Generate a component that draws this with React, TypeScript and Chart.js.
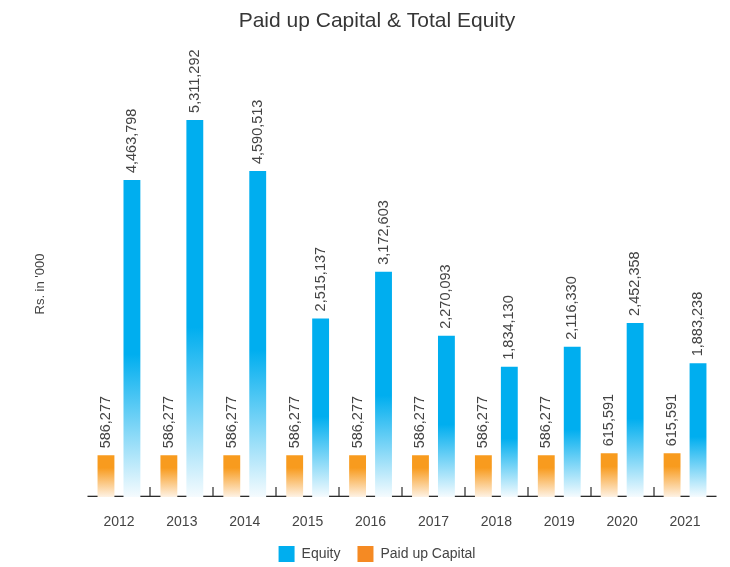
import React, { useEffect, useRef } from 'react';
import { Chart, registerables } from 'chart.js';

Chart.register(...registerables);

const years = ['2012', '2013', '2014', '2015', '2016', '2017', '2018', '2019', '2020', '2021'];
const equity = [4463798, 5311292, 4590513, 2515137, 3172603, 2270093, 1834130, 2116330, 2452358, 1883238];
const paidUpCapital = [586277, 586277, 586277, 586277, 586277, 586277, 586277, 586277, 615591, 615591];
const yMax = 6000000;

const FONT = "'Liberation Sans', Arial, Helvetica, sans-serif";
const BLUE = '#00AEEF';
const ORANGE = '#F89B1E';
const LEGEND_BLUE = '#00AEEF';
const LEGEND_ORANGE = '#F58A23';

function makeGradient(top: string, topStop: number, bottom: string) {
  return (ctx: any) => {
    const chart = ctx.chart;
    if (!chart.chartArea || ctx.type !== 'data') return top;
    const ys = chart.scales.y;
    const yTop = ys.getPixelForValue(ctx.raw as number);
    const yBase = ys.getPixelForValue(0);
    if (!isFinite(yTop) || !isFinite(yBase) || yBase - yTop < 1) return top;
    const g = chart.ctx.createLinearGradient(0, yTop, 0, yBase);
    g.addColorStop(0, top);
    g.addColorStop(topStop, top);
    g.addColorStop(1, bottom);
    return g;
  };
}

const axisPlugin = {
  id: 'axisLine',
  afterLayout(chart: any) {
    // let the x tick labels draw below the (shortened) axis box without clipping
    chart.scales.x.bottom = chart.height;
  },
  beforeDatasetsDraw(chart: any) {
    const { ctx } = chart;
    const xs = chart.scales.x;
    const ys = chart.scales.y;
    const y0 = Math.round(ys.getPixelForValue(0));
    ctx.save();
    ctx.fillStyle = '#2b2b2b';
    ctx.fillRect(xs.left, y0 - 1.3, xs.right - xs.left, 1.3);
    for (let i = 1; i < years.length; i++) {
      const x = Math.round((xs.getPixelForValue(i - 1) + xs.getPixelForValue(i)) / 2);
      ctx.fillRect(x - 0.6, y0 - 10, 1.2, 10);
    }
    ctx.restore();
  },
};

const labelPlugin = {
  id: 'valueLabels',
  afterDatasetsDraw(chart: any) {
    const { ctx } = chart;
    ctx.save();
    ctx.font = `14.5px ${FONT}`;
    ctx.fillStyle = '#444444';
    ctx.textAlign = 'left';
    ctx.textBaseline = 'middle';
    chart.data.datasets.forEach((ds: any, di: number) => {
      const meta = chart.getDatasetMeta(di);
      meta.data.forEach((el: any, i: number) => {
        const { x, y } = el.getProps(['x', 'y'], true);
        ctx.save();
        ctx.translate(x, y - 7);
        ctx.rotate(-Math.PI / 2);
        ctx.fillText(Number(ds.data[i]).toLocaleString('en-US'), 0, 0);
        ctx.restore();
      });
    });
    ctx.restore();
  },
};

export default function App() {
  const canvasRef = useRef<HTMLCanvasElement | null>(null);

  useEffect(() => {
    document.documentElement.style.overflow = 'hidden';
    document.body.style.overflow = 'hidden';
    if (!canvasRef.current) return;
    const legendColors = [LEGEND_ORANGE, LEGEND_BLUE];
    const chart = new Chart(canvasRef.current, {
      type: 'bar',
      data: {
        labels: years,
        datasets: [
          {
            label: 'Paid up Capital',
            data: paidUpCapital,
            backgroundColor: makeGradient(ORANGE, 0.3, '#FEF2E4'),
            borderWidth: 0,
            barPercentage: 0.65,
            categoryPercentage: 0.825,
          },
          {
            label: 'Equity',
            data: equity,
            backgroundColor: makeGradient(BLUE, 0.55, '#F5FBFE'),
            borderWidth: 0,
            barPercentage: 0.65,
            categoryPercentage: 0.825,
          },
        ],
      },
      options: {
        animation: false,
        responsive: true,
        maintainAspectRatio: false,
        layout: { padding: { left: 29.5, right: 5.5, top: 0, bottom: 0 } },
        plugins: {
          title: {
            display: true,
            text: 'Paid up Capital & Total Equity',
            font: { size: 21, weight: 'normal', family: FONT },
            color: '#363636',
            padding: { top: 0.8, bottom: 37.0 },
          },
          legend: {
            position: 'bottom',
            reverse: true,
            labels: {
              boxWidth: 16,
              boxHeight: 16,
              padding: 17,
              color: '#444444',
              font: { size: 14, family: FONT },
              generateLabels: (c: any) => {
                const items = (Chart.defaults.plugins.legend.labels as any).generateLabels(c);
                return items.map((it: any) => ({
                  ...it,
                  fillStyle: legendColors[it.datasetIndex],
                  strokeStyle: legendColors[it.datasetIndex],
                  lineWidth: 0,
                }));
              },
            },
          },
          tooltip: { enabled: false },
        },
        scales: {
          x: {
            grid: { display: false },
            border: { display: false },
            ticks: { padding: 9.2, color: '#444444', font: { size: 14, family: FONT } },
            afterFit: (s: any) => {
              s.height = 32;
            },
          },
          y: {
            min: 0,
            max: yMax,
            grid: { display: false },
            border: { display: false },
            ticks: { display: false },
            title: {
              display: true,
              text: "Rs. in '000",
              color: '#444444',
              font: { size: 13, family: FONT },
              padding: { top: -5.3, bottom: 31.7 },
            },
          },
        },
      },
      plugins: [axisPlugin, labelPlugin],
    } as any);
    return () => chart.destroy();
  }, []);

  return (
    <div style={{ position: 'relative', width: 714, height: 564 }}>
      <canvas ref={canvasRef} />
    </div>
  );
}
